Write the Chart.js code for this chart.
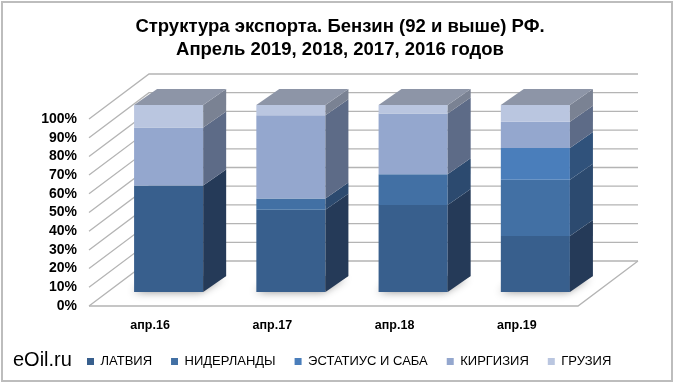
<!DOCTYPE html>
<html>
<head>
<meta charset="utf-8">
<script src="https://cdn.jsdelivr.net/npm/chart.js@4.4.1/dist/chart.umd.min.js"></script>
<style>
  html, body { margin: 0; padding: 0; background: #fff; }
  #wrap { width: 680px; height: 385px; }
</style>
</head>
<body>
<div id="wrap"><canvas id="chart"></canvas></div>
<script>
// Chart data (shares, %)
const months = ["апр.16", "апр.17", "апр.18", "апр.19"];
const latvia = [57, 44, 46.5, 30];
const netherlands = [0, 6, 16.5, 30];
const statia = [0, 0, 0, 17];
const kyrgyzstan = [31, 44.5, 32.5, 14];
const georgia = [12, 5.5, 4.5, 9];
const titleLines = ["Структура экспорта. Бензин (92 и выше) РФ.", "Апрель 2019, 2018, 2017, 2016 годов"];
const sourceText = "eOil.ru";

// Colours: front face / side face
const frontColors = ["#385f8d", "#4270a4", "#4a7ebb", "#94a7ce", "#bac6e0"];
const sideColors = ["#253a58", "#2c4a6f", "#30527b", "#5d6b87", "#7a8293"];
const topColor = "#8d95a7";

// 3D offsets
const FRONT = { dx: 18.5, dy: -14 };  // bar front plane relative to the scale plane
const DEPTH = { dx: 23, dy: -16 };    // bar depth
const WALL = { dx: 60, dy: -45 };     // back wall relative to the scale plane

const FONT = '"Liberation Sans", Arial, sans-serif';
Chart.defaults.font.family = FONT;
Chart.defaults.color = "#000";

// y labels are mirrored (to escape the axis clip) and pushed back left of the plot
const measure = document.createElement("canvas").getContext("2d");
measure.font = "bold 14px " + FONT;
const widestTick = measure.measureText("100%").width;

function poly(ctx, pts, fill) {
  ctx.beginPath();
  ctx.moveTo(pts[0][0], pts[0][1]);
  for (let i = 1; i < pts.length; i++) ctx.lineTo(pts[i][0], pts[i][1]);
  ctx.closePath();
  ctx.fillStyle = fill;
  ctx.fill();
}

// Draws walls, floor and the 3D boxes from the bar elements
const box3d = {
  id: "box3d",
  beforeDatasetsDraw(chart) {
    const { ctx, chartArea: a, scales: { y } } = chart;
    ctx.save();

    // Walls and gridlines
    ctx.strokeStyle = "#b4b4b4";
    ctx.lineWidth = 1.3;
    y.ticks.forEach(t => {
      const py = y.getPixelForValue(t.value);
      ctx.beginPath();
      ctx.moveTo(a.left, py);
      ctx.lineTo(a.left + WALL.dx, py + WALL.dy);
      ctx.lineTo(a.right + WALL.dx, py + WALL.dy);
      ctx.stroke();
    });
    const p0 = y.getPixelForValue(0);
    ctx.beginPath();
    ctx.moveTo(a.left, p0);
    ctx.lineTo(a.right, p0);
    ctx.lineTo(a.right + WALL.dx, p0 + WALL.dy);
    ctx.stroke();

    const metas = chart.data.datasets.map((d, i) => chart.getDatasetMeta(i));

    months.forEach((m, j) => {
      const first = metas[0].data[j].getProps(["x", "base", "width"], true);
      const L = first.x - first.width / 2 + FRONT.dx;
      const R = first.x + first.width / 2 + FRONT.dx;
      const B = first.base + FRONT.dy;

      // soft shadow under the column
      ctx.save();
      ctx.shadowColor = "rgba(0,0,0,0.45)";
      ctx.shadowBlur = 8;
      ctx.shadowOffsetX = -3;
      ctx.shadowOffsetY = 2;
      poly(ctx, [[L + 2, B - 2], [R, B - 2], [R + DEPTH.dx, B + DEPTH.dy], [L + DEPTH.dx, B + DEPTH.dy]], "#888");
      ctx.restore();

      let topIdx = -1;
      metas.forEach((meta, i) => {
        const el = meta.data[j].getProps(["x", "y", "base", "width"], true);
        if (Math.abs(el.base - el.y) < 0.5) return;
        topIdx = i;
        const t = el.y + FRONT.dy, b = el.base + FRONT.dy;
        poly(ctx, [[L, t], [R, t], [R, b], [L, b]], frontColors[i]);
        poly(ctx, [[R, t], [R + DEPTH.dx, t + DEPTH.dy], [R + DEPTH.dx, b + DEPTH.dy], [R, b]], sideColors[i]);
      });
      if (topIdx >= 0) {
        const el = metas[topIdx].data[j].getProps(["y"], true);
        const t = el.y + FRONT.dy;
        poly(ctx, [[L, t], [L + DEPTH.dx, t + DEPTH.dy], [R + DEPTH.dx, t + DEPTH.dy], [R, t]], topColor);
      }
    });

    ctx.restore();
    return false;
  },
  afterDraw(chart) {
    const { ctx } = chart;
    ctx.save();
    ctx.strokeStyle = "#bdbdbd";
    ctx.lineWidth = 2;
    ctx.strokeRect(2, 2, 670, 379);

    ctx.fillStyle = "#000";
    ctx.textAlign = "center";
    ctx.textBaseline = "alphabetic";
    ctx.font = "bold 18.5px " + FONT;
    ctx.fillText(titleLines[0], 340, 32);
    ctx.fillText(titleLines[1], 340, 55);

    ctx.textAlign = "left";
    ctx.font = "20px " + FONT;
    ctx.fillText(sourceText, 13, 366);
    ctx.restore();
  }
};

new Chart(document.getElementById("chart"), {
  type: "bar",
  data: {
    labels: months,
    datasets: [
      { label: "ЛАТВИЯ", data: latvia },
      { label: "НИДЕРЛАНДЫ", data: netherlands },
      { label: "ЭСТАТИУС И САБА", data: statia },
      { label: "КИРГИЗИЯ", data: kyrgyzstan },
      { label: "ГРУЗИЯ", data: georgia }
    ].map((d, i) => Object.assign(d, {
      backgroundColor: frontColors[i],
      borderWidth: 0,
      categoryPercentage: 1,
      barPercentage: 0.565
    }))
  },
  options: {
    responsive: true,
    maintainAspectRatio: false,
    animation: false,
    layout: { padding: { left: 68, right: 0, top: 119, bottom: 7 } },
    plugins: {
      title: { display: false },
      tooltip: { enabled: false },
      legend: {
        position: "bottom",
        align: "start",
        labels: { boxWidth: 7, boxHeight: 7, padding: 19, font: { size: 13 }, color: "#000" }
      }
    },
    scales: {
      x: {
        stacked: true,
        grid: { display: false },
        border: { display: false },
        ticks: { font: { size: 12.5, weight: "bold" }, padding: 4 },
        afterFit: s => { s.height = 30; }
      },
      y: {
        stacked: true,
        min: 0,
        max: 100,
        grid: { display: false },
        border: { display: false },
        ticks: {
          count: 11,
          maxTicksLimit: 11,
          autoSkip: false,
          mirror: true,
          crossAlign: "far",
          padding: -(12 + widestTick),
          font: { size: 14, weight: "bold" },
          callback: v => v + "%"
        },
        afterFit: s => { s.width = 21; }
      },
      y2: {
        position: "right",
        grid: { display: false },
        border: { display: false },
        ticks: { display: false },
        afterFit: s => { s.width = 102; }
      }
    }
  },
  plugins: [box3d]
});
</script>
</body>
</html>
